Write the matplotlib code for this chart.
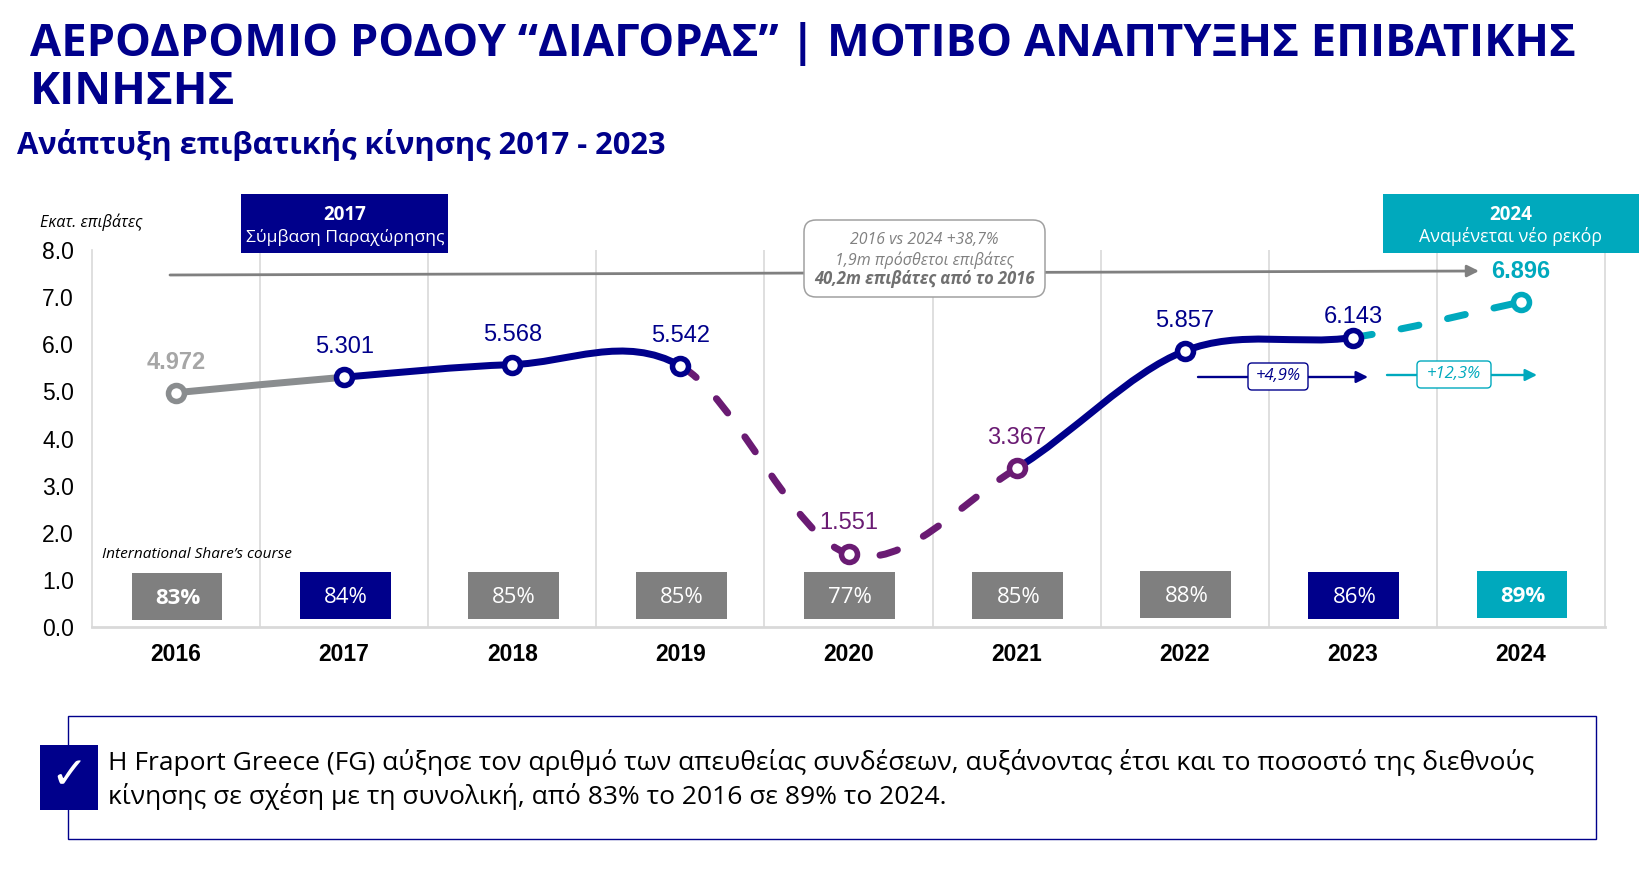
import matplotlib
matplotlib.use('Agg')
import matplotlib.pyplot as plt
import numpy as np
from matplotlib.path import Path
from matplotlib.patches import PathPatch, Rectangle, FancyBboxPatch

years = ['2016', '2017', '2018', '2019', '2020', '2021', '2022', '2023', '2024']
passengers = [4.972, 5.301, 5.568, 5.542, 1.551, 3.367, 5.857, 6.143, 6.896]
passenger_labels = ['4.972', '5.301', '5.568', '5.542', '1.551', '3.367', '5.857', '6.143', '6.896']
shares = ['83%', '84%', '85%', '85%', '77%', '85%', '88%', '86%', '89%']
y_ticks = [0, 1, 2, 3, 4, 5, 6, 7, 8]

NAVY = '#00008B'
PURPLE = '#6A1B73'
TEAL = '#00A9BD'
GREY = '#8A8D8F'
BOXGREY = '#7F7F7F'
LIGHT = '#D9D9D9'
W, H = 1646, 884


def px(v):
    return v * 0.72


marker_colors = [GREY, NAVY, NAVY, NAVY, PURPLE, PURPLE, NAVY, NAVY, TEAL]
label_colors = ['#A6A6A6', NAVY, NAVY, NAVY, PURPLE, PURPLE, NAVY, NAVY, TEAL]
label_rise = [30, 30, 30, 30, 31, 30, 30, 21, 31]
share_colors = [BOXGREY, NAVY, BOXGREY, BOXGREY, BOXGREY, BOXGREY, BOXGREY, NAVY, TEAL]
share_bottom = [0.15, 0.17, 0.17, 0.17, 0.17, 0.17, 0.19, 0.17, 0.19]
share_bold = [True, False, False, False, False, False, False, False, True]

fig = plt.figure(figsize=(W / 100, H / 100), dpi=100)
ax = fig.add_axes([92 / W, 1 - 627 / H, (1605 - 92) / W, (627 - 250) / H])
x = np.arange(len(years))
ax.set_xlim(-0.5, 8.5)
ax.set_ylim(0, 8)

# vertical separators between the years
ax.set_xticks(x)
ax.set_xticklabels(years, family='Liberation Sans', fontsize=16.5, fontweight='bold', color='black')
ax.set_xticks(x[:-1] + 0.5, minor=True)
ax.set_yticks(y_ticks)
ax.set_yticklabels([f'{v:.1f}' for v in y_ticks], family='Liberation Sans', fontsize=16.5, va='center_baseline')
ax.tick_params(axis='both', which='both', length=0)
ax.tick_params(axis='x', pad=11.3)
ax.tick_params(axis='y', pad=13)
ax.grid(False)
ax.grid(True, axis='x', which='minor', color=LIGHT, lw=1.2)
ax.spines['top'].set_visible(False)
for s in ['left', 'right']:
    ax.spines[s].set_color(LIGHT)
    ax.spines[s].set_linewidth(1.2)
ax.spines['bottom'].set_color(LIGHT)
ax.spines['bottom'].set_linewidth(2)

# smoothed line like the spreadsheet one, tangents from the neighbours
tangents = np.gradient(np.array(passengers))


def curve(start, end, color, dashed=False, offset=0):
    verts = [(start, passengers[start])]
    codes = [Path.MOVETO]
    for i in range(start, end):
        verts.append((i + 1 / 3, passengers[i] + tangents[i] / 3))
        verts.append((i + 2 / 3, passengers[i + 1] - tangents[i + 1] / 3))
        verts.append((i + 1, passengers[i + 1]))
        codes += [Path.CURVE4] * 3
    ls = (offset, (2.6, 4.2)) if dashed else '-'
    ax.add_patch(PathPatch(Path(verts, codes), fc='none', ec=color, lw=px(7), ls=ls,
                           capstyle='round', joinstyle='round', zorder=3))


curve(0, 1, GREY)
curve(1, 3, NAVY)
curve(3, 5, PURPLE, dashed=True, offset=6.6)
curve(5, 7, NAVY)
curve(7, 8, TEAL, dashed=True, offset=6.6)

for i in x:
    ax.plot(i, passengers[i], 'o', ms=px(16), mfc='white', mec=marker_colors[i], mew=px(5.5), zorder=4)
    ax.annotate(passenger_labels[i], (i, passengers[i]), xytext=(0, px(label_rise[i])),
                textcoords='offset points', ha='center', va='center', color=label_colors[i],
                family='Liberation Sans', fontsize=17,
                fontweight='bold' if i in (0, 8) else 'normal', zorder=5)

ax.bar(x + 0.006, [1.0] * len(x), bottom=share_bottom, width=0.54, color=share_colors, zorder=2)
for i in x:
    ax.text(i + 0.01, share_bottom[i] + 0.46, shares[i], ha='center', va='center', color='white',
            family='Open Sans', fontsize=16, fontweight='bold' if share_bold[i] else 'normal', zorder=3)

# everything around the plot goes on a pixel overlay
ov = fig.add_axes([0, 0, 1, 1], facecolor='none')
ov.set_xlim(0, W)
ov.set_ylim(H, 0)
ov.axis('off')

ov.text(30, 44, 'ΑΕΡΟΔΡΟΜΙΟ ΡΟΔΟΥ “ΔΙΑΓΟΡΑΣ” | ΜΟΤΙΒΟ ΑΝΑΠΤΥΞΗΣ ΕΠΙΒΑΤΙΚΗΣ', color=NAVY,
        family='Open Sans', fontsize=32.55, fontweight='bold', va='center')
ov.text(30, 93, 'ΚΙΝΗΣΗΣ', color=NAVY, family='Open Sans', fontsize=32.55, fontweight='bold', va='center')
ov.text(17, 145, 'Ανάπτυξη επιβατικής κίνησης 2017 - 2023', color=NAVY, family='Open Sans',
        fontsize=22.2, fontweight='bold', va='center')

ov.text(40, 222, 'Εκατ. επιβάτες', family='Open Sans', style='italic', fontsize=11.6, va='center')
ov.text(102, 555, 'International Share’s course', family='Open Sans', style='italic', fontsize=11.1, va='center')

# milestone boxes
ov.add_patch(Rectangle((241, 194), 207, 59, fc=NAVY, ec='none'))
ov.text(345, 215, '2017', color='white', family='Open Sans', fontsize=13.5, fontweight='bold', ha='center', va='center')
ov.text(345, 237, 'Σύμβαση Παραχώρησης', color='white', family='Open Sans', fontsize=12.6, ha='center', va='center')
ov.add_patch(Rectangle((1383, 194), 256, 59, fc=TEAL, ec='none'))
ov.text(1511, 215, '2024', color='white', family='Open Sans', fontsize=13.5, fontweight='bold', ha='center', va='center')
ov.text(1511, 237, 'Αναμένεται νέο ρεκόρ', color='white', family='Open Sans', fontsize=12.8, ha='center', va='center')

# long grey arrow and the note on top of it
ov.annotate('', xy=(1479, 271), xytext=(170, 275),
            arrowprops=dict(arrowstyle='-|>,head_length=0.7,head_width=0.35', color='#808080', lw=2,
                            shrinkA=0, shrinkB=0))
ov.add_patch(FancyBboxPatch((804, 220), 241, 77, boxstyle='round,pad=0,rounding_size=12', fc='white', ec='#A0A0A0', lw=1.1,
                            zorder=3))
ov.text(924, 240, '2016 vs 2024 +38,7%', color='#808080', family='Open Sans', style='italic', fontsize=11.4, ha='center', va='center', zorder=4)
ov.text(924, 260, '1,9m πρόσθετοι επιβάτες', color='#808080', family='Open Sans', style='italic', fontsize=11.5, ha='center', va='center', zorder=4)
ov.text(924, 279, '40,2m επιβάτες από το 2016', color='#707070', family='Open Sans', style='italic', fontweight='bold', fontsize=11.9, ha='center', va='center', zorder=4)

# growth arrows
for x0, x1, bx, bw, yy, col, txt in [(1198, 1368, 1248, 60, 377, NAVY, '+4,9%'),
                                     (1387, 1537, 1417, 74, 375, TEAL, '+12,3%')]:
    ov.annotate('', xy=(x1, yy), xytext=(x0, yy),
                arrowprops=dict(arrowstyle='-|>,head_length=0.7,head_width=0.35', color=col, lw=1.7,
                                shrinkA=0, shrinkB=0))
    ov.add_patch(FancyBboxPatch((bx, yy - 14), bw, 27, boxstyle='round,pad=0,rounding_size=4', fc='white', ec=col, lw=1, zorder=3))
    ov.text(bx + bw / 2, yy - 1, txt, color=col, family='Open Sans', style='italic', fontsize=12, ha='center', va='center', zorder=4)

# bottom takeaway
ov.add_patch(Rectangle((68, 716), 1528, 123, fc='white', ec=NAVY, lw=1))
ov.add_patch(Rectangle((40, 745), 58, 65, fc=NAVY, ec='none'))
ov.text(69, 776, '✓', color='white', family='DejaVu Sans', fontweight='bold', fontsize=32, ha='center', va='center')
ov.text(108, 763, 'Η Fraport Greece (FG) αύξησε τον αριθμό των απευθείας συνδέσεων, αυξάνοντας έτσι και το ποσοστό της διεθνούς',
        family='Open Sans', fontsize=19.02, va='center')
ov.text(108, 797, 'κίνησης σε σχέση με τη συνολική, από 83% το 2016 σε 89% το 2024.',
        family='Open Sans', fontsize=19.02, va='center')

fig.savefig('out.png', dpi=100)
